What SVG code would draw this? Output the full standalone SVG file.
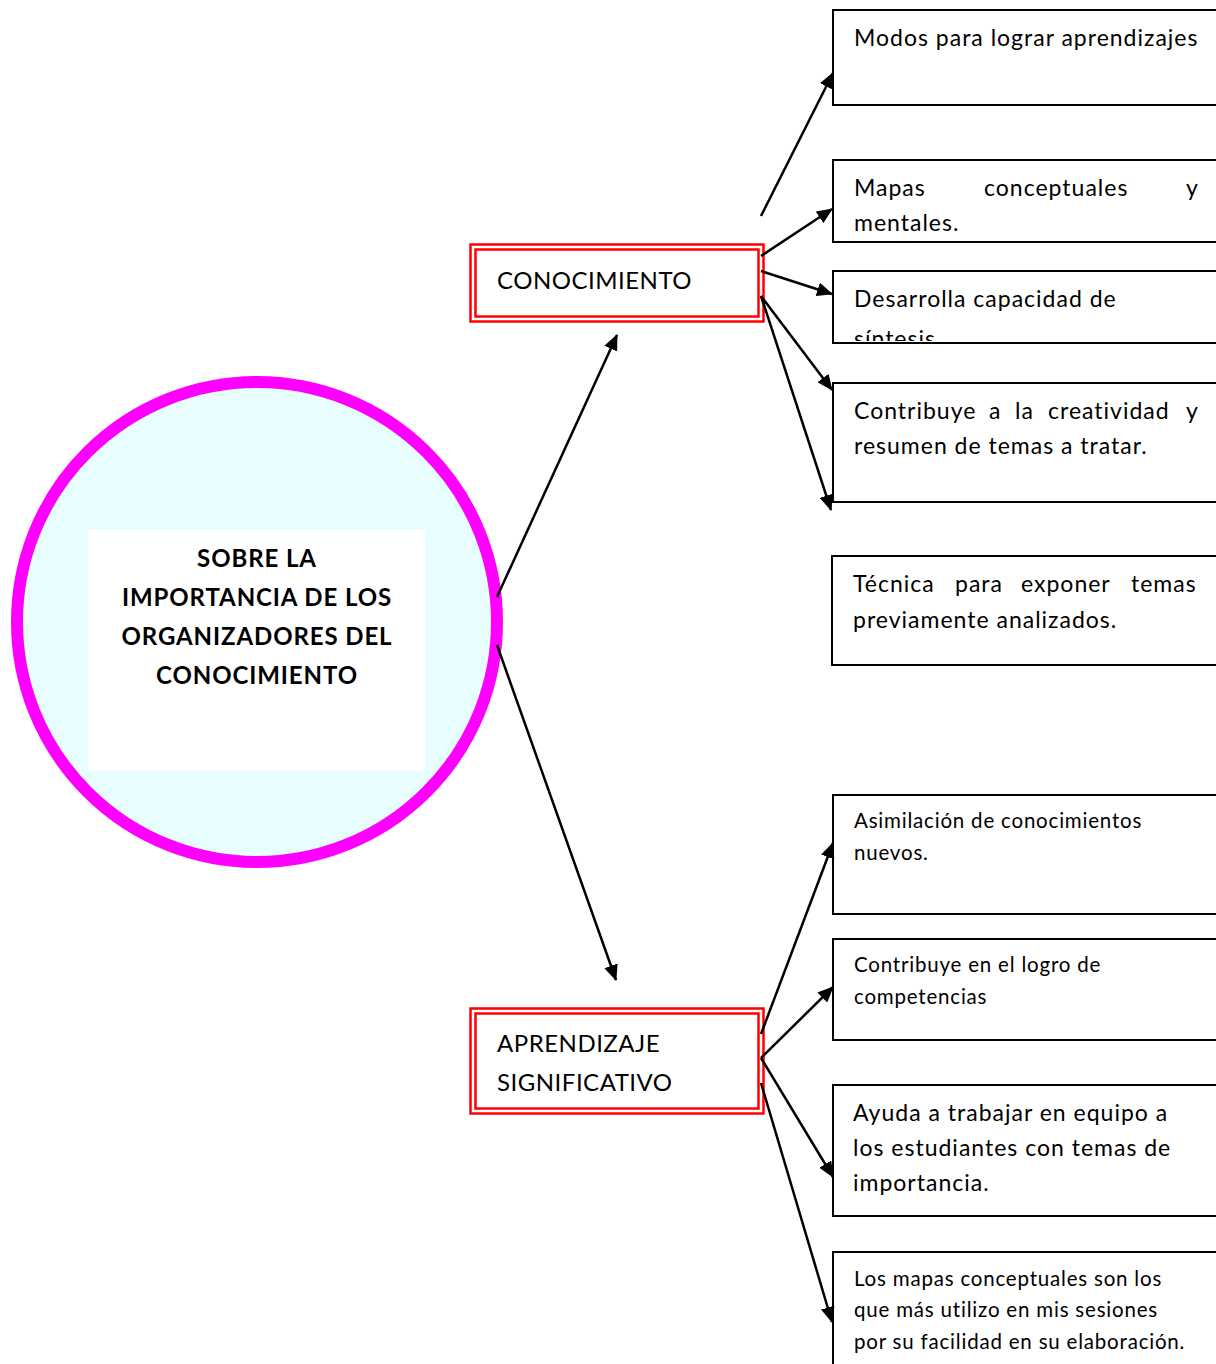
<svg xmlns="http://www.w3.org/2000/svg" width="1216" height="1364" viewBox="0 0 1216 1364">
<defs>
<marker id="ah" markerUnits="userSpaceOnUse" markerWidth="16" markerHeight="14" refX="15" refY="7" orient="auto">
<path d="M0,0 L16,7 L0,14 Z" fill="#000"/>
</marker>
<clipPath id="clip3"><rect x="833" y="271" width="390" height="70"/></clipPath>
</defs>
<style>
.box{fill:#fff;stroke:#000;stroke-width:2}
.t{font-family:"Lato","Liberation Sans",sans-serif;font-size:23px;letter-spacing:1px;fill:#000}
.s{font-family:"Lato","Liberation Sans",sans-serif;font-size:20.5px;letter-spacing:0.8px;fill:#000}
.red{fill:none;stroke:#f00;stroke-width:2.5}
.ct{font-family:"Lato","Liberation Sans",sans-serif;font-size:24px;letter-spacing:0.9px;font-weight:bold;fill:#000;text-anchor:middle}
.mt{font-family:"Lato","Liberation Sans",sans-serif;font-size:24px;letter-spacing:0.5px;fill:#000}
.c{stroke:#000;stroke-width:2.5;fill:none;marker-end:url(#ah)}
</style>
<rect width="1216" height="1364" fill="#fff"/>
<g id="center">
<circle cx="257" cy="622" r="240" fill="#E8FEFE" stroke="#FF00FF" stroke-width="12"/>
<rect x="88" y="530" width="337" height="241" fill="#fff"/>
<text class="ct" x="257" y="567">SOBRE LA</text>
<text class="ct" x="257" y="606">IMPORTANCIA DE LOS</text>
<text class="ct" x="257" y="645">ORGANIZADORES DEL</text>
<text class="ct" x="257" y="684">CONOCIMIENTO</text>
</g>
<g id="conocimiento">
<rect class="red" x="470.5" y="244.5" width="293" height="77"/>
<rect class="red" x="475.5" y="249.5" width="283" height="67"/>
<text class="mt" x="497" y="289">CONOCIMIENTO</text>
</g>
<g id="aprendizaje">
<rect class="red" x="470.5" y="1008.5" width="293" height="105"/>
<rect class="red" x="475.5" y="1013.5" width="283" height="95"/>
<text class="mt" x="497" y="1052">APRENDIZAJE</text>
<text class="mt" x="497" y="1091">SIGNIFICATIVO</text>
</g>
<g id="b1">
<rect class="box" x="833" y="10" width="390" height="95"/>
<text class="t" x="854" y="46">Modos para lograr aprendizajes</text>
</g>
<g id="b2">
<rect class="box" x="833" y="160" width="390" height="82"/>
<text class="t" x="854" y="196">Mapas</text>
<text class="t" x="984" y="196">conceptuales</text>
<text class="t" x="1186" y="196">y</text>
<text class="t" x="854" y="231">mentales.</text>
</g>
<g id="b3">
<rect class="box" x="833" y="271" width="390" height="72"/>
<text class="t" x="854" y="307">Desarrolla capacidad de</text>
<text class="t" x="854" y="347" clip-path="url(#clip3)">síntesis</text>
</g>
<g id="b4">
<rect class="box" x="833" y="383" width="390" height="119"/>
<text class="t" x="854" y="419">Contribuye</text>
<text class="t" x="989" y="419">a</text>
<text class="t" x="1015" y="419">la</text>
<text class="t" x="1048" y="419">creatividad</text>
<text class="t" x="1186" y="419">y</text>
<text class="t" x="854" y="454">resumen de temas a tratar.</text>
</g>
<g id="b5">
<rect class="box" x="832" y="556" width="391" height="109"/>
<text class="t" x="853" y="592">Técnica</text>
<text class="t" x="955" y="592">para</text>
<text class="t" x="1021" y="592">exponer</text>
<text class="t" x="1131" y="592">temas</text>
<text class="t" x="853" y="628">previamente analizados.</text>
</g>
<g id="b6">
<rect class="box" x="833" y="795" width="390" height="119"/>
<text class="s" x="854" y="828">Asimilación de conocimientos</text>
<text class="s" x="854" y="860">nuevos.</text>
</g>
<g id="b7">
<rect class="box" x="833" y="939" width="390" height="101"/>
<text class="s" x="854" y="972">Contribuye en el logro de</text>
<text class="s" x="854" y="1004">competencias</text>
</g>
<g id="b8">
<rect class="box" x="833" y="1085" width="390" height="131"/>
<text class="t" x="853" y="1121">Ayuda a trabajar en equipo a</text>
<text class="t" x="853" y="1156">los estudiantes con temas de</text>
<text class="t" x="853" y="1191">importancia.</text>
</g>
<g id="b9">
<rect class="box" x="833" y="1252" width="390" height="130"/>
<text class="s" x="854" y="1286">Los mapas conceptuales son los</text>
<text class="s" x="854" y="1317">que más utilizo en mis sesiones</text>
<text class="s" x="854" y="1349">por su facilidad en su elaboración.</text>
</g>
<g id="connectors">
<line class="c" x1="497" y1="597" x2="617" y2="335"/>
<line class="c" x1="497" y1="645" x2="616" y2="980"/>
<line class="c" x1="761" y1="216" x2="833" y2="73"/>
<line class="c" x1="761" y1="256" x2="832" y2="209"/>
<line class="c" x1="761" y1="271" x2="832" y2="294"/>
<line class="c" x1="761" y1="296" x2="832" y2="390"/>
<line class="c" x1="761" y1="296" x2="831" y2="510"/>
<line class="c" x1="761" y1="1034" x2="833" y2="843"/>
<line class="c" x1="761" y1="1058" x2="833" y2="987"/>
<line class="c" x1="761" y1="1058" x2="833" y2="1177"/>
<line class="c" x1="761" y1="1083" x2="832" y2="1322"/>
</g>
</svg>
